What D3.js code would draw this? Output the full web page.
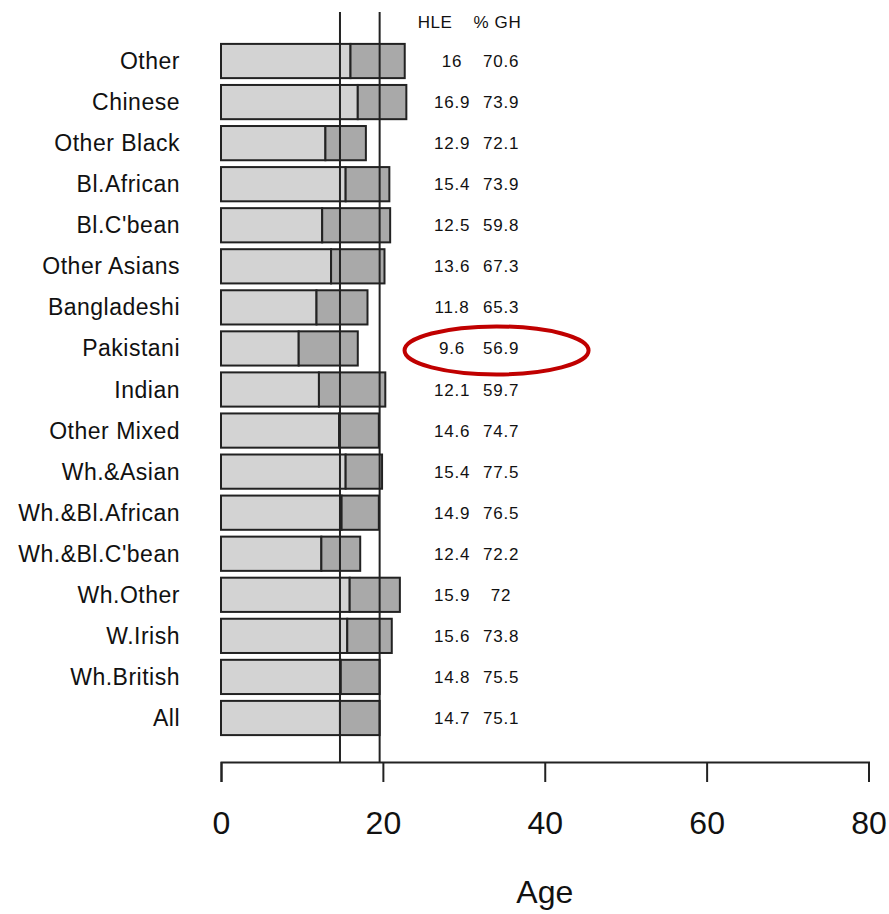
<!DOCTYPE html>
<html>
<head>
<meta charset="utf-8">
<script src="https://cdnjs.cloudflare.com/ajax/libs/d3/7.8.5/d3.min.js"></script>
<style>
  body { margin: 0; background: #fff; }
  text { font-family: "Liberation Sans", Arial, sans-serif; fill: #111; }
</style>
</head>
<body>
<div class="canvas"></div>
<script>
// data, top row first
const groups = ["Other", "Chinese", "Other Black", "Bl.African", "Bl.C'bean", "Other Asians",
  "Bangladeshi", "Pakistani", "Indian", "Other Mixed", "Wh.&Asian", "Wh.&Bl.African",
  "Wh.&Bl.C'bean", "Wh.Other", "W.Irish", "Wh.British", "All"];
const hle = [16, 16.9, 12.9, 15.4, 12.5, 13.6, 11.8, 9.6, 12.1, 14.6, 15.4, 14.9, 12.4, 15.9, 15.6, 14.8, 14.7];
const le = [22.7, 22.9, 17.9, 20.8, 20.9, 20.2, 18.1, 16.9, 20.3, 19.5, 19.9, 19.5, 17.2, 22.1, 21.1, 19.6, 19.6];
const gh = ["70.6", "73.9", "72.1", "73.9", "59.8", "67.3", "65.3", "56.9", "59.7", "74.7", "77.5",
  "76.5", "72.2", "72", "73.8", "75.5", "75.1"];
const hleLabels = ["16", "16.9", "12.9", "15.4", "12.5", "13.6", "11.8", "9.6", "12.1", "14.6", "15.4",
  "14.9", "12.4", "15.9", "15.6", "14.8", "14.7"];
const xTicks = [0, 20, 40, 60, 80];
const refLines = [14.7, 19.6]; // All: HLE and life expectancy

const width = 889, height = 914;

const svg = d3.select('.canvas')
  .append('svg')
    .attr('width', width)
    .attr('height', height);

// scales
const x = d3.scaleLinear()
  .domain([0, 80])
  .range([221, 868.5]);

const y = d3.scaleBand()
  .domain(groups)
  .range([43.9, 735.1])
  .paddingInner(1 / 6)
  .paddingOuter(0);

const axisY = 762;

const rows = svg.append('g')
  .selectAll('g')
  .data(groups)
  .enter()
  .append('g');

// healthy part
rows.append('rect')
  .attr('x', x(0))
  .attr('y', d => y(d))
  .attr('width', (d, i) => x(hle[i]) - x(0))
  .attr('height', y.bandwidth())
  .attr('fill', '#d3d3d3')
  .attr('stroke', '#222')
  .attr('stroke-width', 2);

// rest of life expectancy
rows.append('rect')
  .attr('x', (d, i) => x(hle[i]))
  .attr('y', d => y(d))
  .attr('width', (d, i) => x(le[i]) - x(hle[i]))
  .attr('height', y.bandwidth())
  .attr('fill', '#a9a9a9')
  .attr('stroke', '#222')
  .attr('stroke-width', 2);

// category labels
rows.append('text')
  .attr('x', 180)
  .attr('y', d => y(d) + y.bandwidth() / 2 + 8)
  .attr('text-anchor', 'end')
  .style('font-size', '23px')
  .style('letter-spacing', '0.5px')
  .text(d => d);

// value columns
rows.append('text')
  .attr('x', x(28.55))
  .attr('y', d => y(d) + y.bandwidth() / 2 + 6)
  .attr('text-anchor', 'middle')
  .style('font-size', '17px')
  .style('letter-spacing', '0.8px')
  .text((d, i) => hleLabels[i]);

rows.append('text')
  .attr('x', x(34.6))
  .attr('y', d => y(d) + y.bandwidth() / 2 + 6)
  .attr('text-anchor', 'middle')
  .style('font-size', '17px')
  .style('letter-spacing', '0.8px')
  .text((d, i) => gh[i]);

// column headers
svg.append('text')
  .attr('x', x(26.45))
  .attr('y', 28)
  .attr('text-anchor', 'middle')
  .style('font-size', '17px')
  .style('letter-spacing', '0.6px')
  .text('HLE');

svg.append('text')
  .attr('x', x(34.15))
  .attr('y', 28)
  .attr('text-anchor', 'middle')
  .style('font-size', '17px')
  .style('letter-spacing', '0.6px')
  .text('% GH');

// reference lines for All
svg.append('g')
  .selectAll('line')
  .data(refLines)
  .enter()
  .append('line')
    .attr('x1', d => x(d))
    .attr('x2', d => x(d))
    .attr('y1', 12)
    .attr('y2', axisY)
    .attr('stroke', '#222')
    .attr('stroke-width', 2);

// x axis
const xAxis = d3.axisBottom(x)
  .tickValues(xTicks)
  .tickSize(20)
  .tickSizeOuter(20)
  .tickPadding(29);

const xAxisGroup = svg.append('g')
  .attr('transform', `translate(0, ${axisY})`)
  .call(xAxis);

xAxisGroup.selectAll('path, line')
  .attr('stroke', '#222')
  .attr('stroke-width', 2);

xAxisGroup.selectAll('text')
  .style('font-family', '"Liberation Sans", Arial, sans-serif')
  .style('font-size', '32px')
  .attr('fill', '#111');

svg.append('text')
  .attr('x', x(40))
  .attr('y', 903)
  .attr('text-anchor', 'middle')
  .style('font-size', '32px')
  .text('Age');

// red ellipse highlighting Pakistani
const pak = groups.indexOf('Pakistani');
svg.append('ellipse')
  .attr('cx', (x(28.55) + x(34.6)) / 2 + 20)
  .attr('cy', y(groups[pak]) + y.bandwidth() / 2 + 2)
  .attr('rx', 92)
  .attr('ry', 24)
  .attr('fill', 'none')
  .attr('stroke', '#c00000')
  .attr('stroke-width', 4);
</script>
</body>
</html>
